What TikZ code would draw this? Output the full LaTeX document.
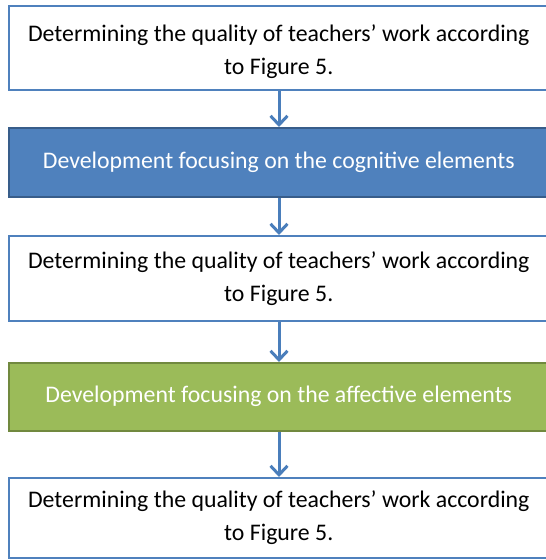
\documentclass[tikz,border=0pt]{standalone}
\usepackage{fontspec}
\setmainfont{Carlito}
\usetikzlibrary{arrows.meta}
\definecolor{bfill}{HTML}{4F81BD}
\definecolor{bline}{HTML}{385D8A}
\definecolor{gfill}{HTML}{9BBB59}
\definecolor{gline}{HTML}{71893F}
\definecolor{wline}{HTML}{4F81BD}
\definecolor{arr}{HTML}{4A7EBB}
\tikzset{
  box/.style={draw, line width=1.5pt, minimum width=540pt, inner sep=0pt, anchor=north west, font=\fontsize{23.8}{33}\selectfont, align=center},
  whitebox/.style={box, draw=wline, fill=white, text=black},
  bluebox/.style={box, draw=bline, fill=bfill, text=white},
  greenbox/.style={box, draw=gline, fill=gfill, text=white},
  boxtext/.style={inner sep=0pt, font=\fontsize{23.8}{33}\selectfont, align=center},
  flow/.style={draw=arr, line width=3pt, -{Straight Barb[length=9pt,width=17pt,line width=3pt]}}
}
\begin{document}
\begin{tikzpicture}[x=1pt,y=-1pt]
\useasboundingbox (0,0) rectangle (546,560);
\clip (0,0) rectangle (546,560);
\node[whitebox, minimum height=84pt] (b1) at (8,5) {};
\node[boxtext, text=black, yshift=-4pt] (t1) at (b1.center) {Determining the quality of teachers’ work according\\to Figure 5.};
\node[bluebox, minimum height=69pt] (b2) at (8,127) {Development focusing on the cognitive elements};
\node[whitebox, minimum height=85pt] (b3) at (8,235) {Determining the quality of teachers’ work according\\to Figure 5.};
\node[greenbox, minimum height=68pt] (b4) at (8,362) {Development focusing on the affective elements};
\node[whitebox, minimum height=80pt] (b5) at (8,477) {Determining the quality of teachers’ work according\\to Figure 5.};
\coordinate (ax) at (279,0);
\draw[flow] (b1.south -| ax) -- (b2.north -| ax);
\draw[flow] (b2.south -| ax) -- (b3.north -| ax);
\draw[flow] (b3.south -| ax) -- (b4.north -| ax);
\draw[flow] (b4.south -| ax) -- (b5.north -| ax);
\end{tikzpicture}
\end{document}
